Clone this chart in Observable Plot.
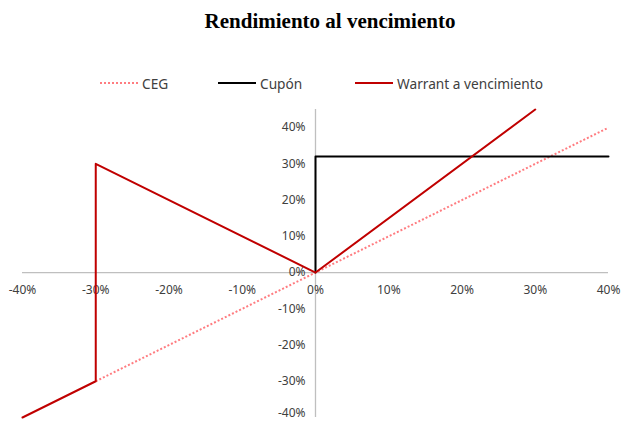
<!DOCTYPE html>
<html>
<head>
<meta charset="utf-8">
<script src="https://cdn.jsdelivr.net/npm/d3@7"></script>
<script src="https://cdn.jsdelivr.net/npm/@observablehq/plot@0.6"></script>
<style>
  html, body { margin: 0; padding: 0; background: #fff; }
  #wrap { position: relative; width: 623px; height: 421px; overflow: hidden; }
  #title { position: absolute; left: 37px; top: 8px; width: 586px; text-align: center;
    font-family: "Liberation Serif", "Times New Roman", serif; font-weight: bold; font-size: 21px; color: #000; line-height: 26px; }
  .leg { position: absolute; top: 73px; height: 20px; display: flex; align-items: center;
    font-family: "Noto Sans", "Open Sans", sans-serif; font-size: 13.7px; color: #404040; }
  .sw { display: inline-block; width: 38px; height: 0; margin-right: 4px; }
  #chart { position: absolute; left: 0; top: 100px; }
</style>
</head>
<body>
<div id="wrap">
  <div id="title">Rendimiento al vencimiento</div>
  <div id="legend"></div>
  <div id="chart"></div>
</div>
<script>
// Data (percent)
const cegX = [-30, 40];
const cegY = [-30, 40];
const cuponX = [0, 0, 40];
const cuponY = [0, 32, 32];
const warrantX = [-40, -30, -30, 0, 30];
const warrantY = [-40, -30, 30, 0, 45];
const xTicks = [-40, -30, -20, -10, 0, 10, 20, 30, 40];
const yTicks = [-30, -20, -10, 0, 10, 20, 30, 40];
const yTickBottom = [-40];
const seriesNames = ["CEG", "Cupón", "Warrant a vencimiento"];

const cRed = "#c00000";
const cPink = "#ff7c80";
const cBlack = "#000000";
const cGray = "#bfbfbf";
const cText = "#404040";

const ceg = cegX.map((x, i) => ({x, y: cegY[i]}));
const cupon = cuponX.map((x, i) => ({x, y: cuponY[i]}));
const warrant = warrantX.map((x, i) => ({x, y: warrantY[i]}));
const fmt = d => d + "%";

const plot = Plot.plot({
  width: 623,
  height: 321,
  marginLeft: 22,
  marginRight: 15,
  marginTop: 9,
  marginBottom: 4,
  x: {domain: [-40, 40], axis: null},
  y: {domain: [-40, 45], axis: null},
  style: {fontFamily: "'Noto Sans', 'Open Sans', sans-serif", fontSize: "12px", background: "#fff"},
  marks: [
    Plot.ruleY([0], {stroke: cGray, strokeWidth: 1.3}),
    Plot.ruleX([0], {stroke: cGray, strokeWidth: 1.3}),
    Plot.text(xTicks, {x: d => d, y: 0, dy: 18, text: fmt, fill: cText, textAnchor: "middle"}),
    Plot.text(yTicks, {x: 0, y: d => d, dx: -10, text: fmt, fill: cText, textAnchor: "end"}),
    Plot.text(yTickBottom, {x: 0, y: d => d, dx: -10, dy: -4, text: fmt, fill: cText, textAnchor: "end"}),
    Plot.line(ceg, {x: "x", y: "y", stroke: cPink, strokeWidth: 2, strokeDasharray: "2,2", strokeLinecap: "butt"}),
    Plot.line(cupon, {x: "x", y: "y", stroke: cBlack, strokeWidth: 2}),
    Plot.line(warrant, {x: "x", y: "y", stroke: cRed, strokeWidth: 2})
  ]
});
document.getElementById("chart").appendChild(plot);

// Legend
const legend = document.getElementById("legend");
const legItems = [
  {name: seriesNames[0], left: 100, style: `border-top: 2px dotted ${cPink};`},
  {name: seriesNames[1], left: 218, style: `border-top: 2px solid ${cBlack};`},
  {name: seriesNames[2], left: 355, style: `border-top: 2px solid ${cRed};`}
];
for (const it of legItems) {
  const d = document.createElement("div");
  d.className = "leg";
  d.style.left = it.left + "px";
  d.innerHTML = `<span class="sw" style="${it.style}"></span><span>${it.name}</span>`;
  legend.appendChild(d);
}
</script>
</body>
</html>
